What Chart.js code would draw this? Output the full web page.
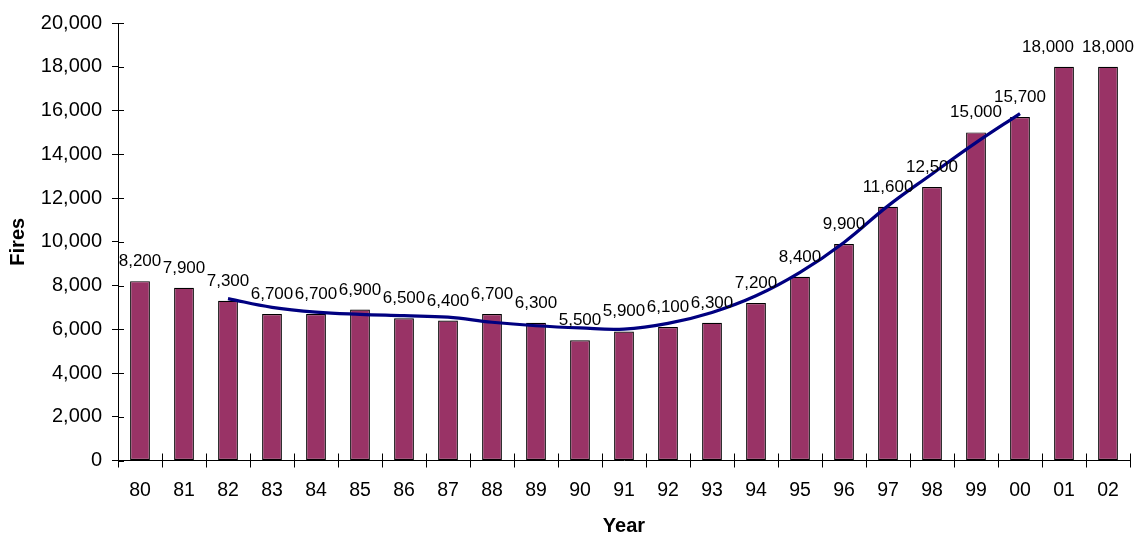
<!DOCTYPE html>
<html>
<head>
<meta charset="utf-8">
<script src="https://cdn.jsdelivr.net/npm/chart.js@4/dist/chart.umd.min.js"></script>
<style>
  html, body { margin: 0; padding: 0; background: #fff; }
  #wrap { width: 1136px; height: 535px; position: relative; }
</style>
</head>
<body>
<div id="wrap"><canvas id="c"></canvas></div>
<script>
// Fire counts per year, with a smoothed trend curve over 1982–2000
const years = ['80','81','82','83','84','85','86','87','88','89','90','91','92','93','94','95','96','97','98','99','00','01','02'];
const fires = [8200,7900,7300,6700,6700,6900,6500,6400,6700,6300,5500,5900,6100,6300,7200,8400,9900,11600,12500,15000,15700,18000,18000];
const trend = [null,null,7400,7000,6780,6680,6620,6550,6320,6160,6060,6010,6270,6770,7530,8600,9970,11640,13100,14530,15860,null,null];
const yTicks = [0,2000,4000,6000,8000,10000,12000,14000,16000,18000,20000];

const FONT = '"Liberation Sans", Arial, sans-serif';
const fmt = v => v.toLocaleString('en-US');

// Value labels above each bar; the 2001 label is nudged left so it
// does not run into the 2002 label
const labelNudge = { '01': -16 };
const barLabels = {
  id: 'barLabels',
  afterDatasetsDraw(chart) {
    const meta = chart.getDatasetMeta(0);
    const ctx = chart.ctx;
    ctx.save();
    ctx.font = '17px ' + FONT;
    ctx.fillStyle = '#000';
    ctx.textAlign = 'center';
    ctx.textBaseline = 'alphabetic';
    meta.data.forEach((bar, i) => {
      const dx = labelNudge[years[i]] || 0;
      ctx.fillText(fmt(fires[i]), bar.x + dx, bar.y - 15);
    });
    ctx.restore();
  }
};

// Tick marks that cross the axis lines (inner half)
const innerTicks = {
  id: 'innerTicks',
  afterDraw(chart) {
    const ctx = chart.ctx;
    const xs = chart.scales.x, ys = chart.scales.y;
    const area = chart.chartArea;
    ctx.save();
    ctx.strokeStyle = '#000';
    ctx.lineWidth = 1;
    ctx.beginPath();
    ys.ticks.forEach((t, i) => {
      const y = Math.round(ys.getPixelForTick(i)) + 0.5;
      ctx.moveTo(area.left, y);
      ctx.lineTo(area.left + 6, y);
    });
    const n = years.length;
    for (let i = 0; i <= n; i++) {
      const x = Math.round(xs.getPixelForValue(i - 0.5)) + 0.5;
      ctx.moveTo(x, area.bottom);
      ctx.lineTo(x, area.bottom - 7);
    }
    ctx.stroke();
    ctx.restore();
  }
};

new Chart(document.getElementById('c'), {
  data: {
    labels: years,
    datasets: [
      {
        type: 'bar',
        data: fires,
        backgroundColor: '#993366',
        borderColor: '#000',
        borderWidth: 1.2,
        borderSkipped: false,
        categoryPercentage: 1,
        barPercentage: 0.45,
        order: 2
      },
      {
        type: 'line',
        data: trend,
        borderColor: '#000080',
        borderWidth: 3.2,
        pointRadius: 0,
        tension: 0.4,
        fill: false,
        spanGaps: false,
        order: 1
      }
    ]
  },
  options: {
    responsive: true,
    maintainAspectRatio: false,
    animation: false,
    layout: { padding: { top: 23, right: 6, bottom: 0, left: 0 } },
    plugins: { legend: { display: false }, tooltip: { enabled: false } },
    scales: {
      x: {
        offset: true,
        grid: { display: true, offset: true, drawOnChartArea: false, tickLength: 7, color: '#000', lineWidth: 1 },
        border: { display: true, color: '#000', width: 1 },
        ticks: { color: '#000', font: { family: FONT, size: 19.5 }, padding: 11, maxRotation: 0, autoSkip: false },
        title: { display: true, text: 'Year', color: '#000', font: { family: FONT, size: 20, weight: 'bold' }, padding: { top: 0, bottom: -3 } },
        afterFit(s) { s.height = 74.5; }
      },
      y: {
        min: 0,
        max: 20000,
        afterBuildTicks(s) { s.ticks = yTicks.map(v => ({ value: v })); },
        grid: { display: true, drawOnChartArea: false, tickLength: 6, color: '#000', lineWidth: 1 },
        border: { display: true, color: '#000', width: 1 },
        ticks: { color: '#000', font: { family: FONT, size: 20 }, padding: 10, callback: v => fmt(v) },
        title: { display: true, text: 'Fires', color: '#000', font: { family: FONT, size: 20, weight: 'bold' }, padding: { top: 6, bottom: 0 } },
        afterFit(s) { s.width = 118; }
      }
    }
  },
  plugins: [barLabels, innerTicks]
});
</script>
</body>
</html>
